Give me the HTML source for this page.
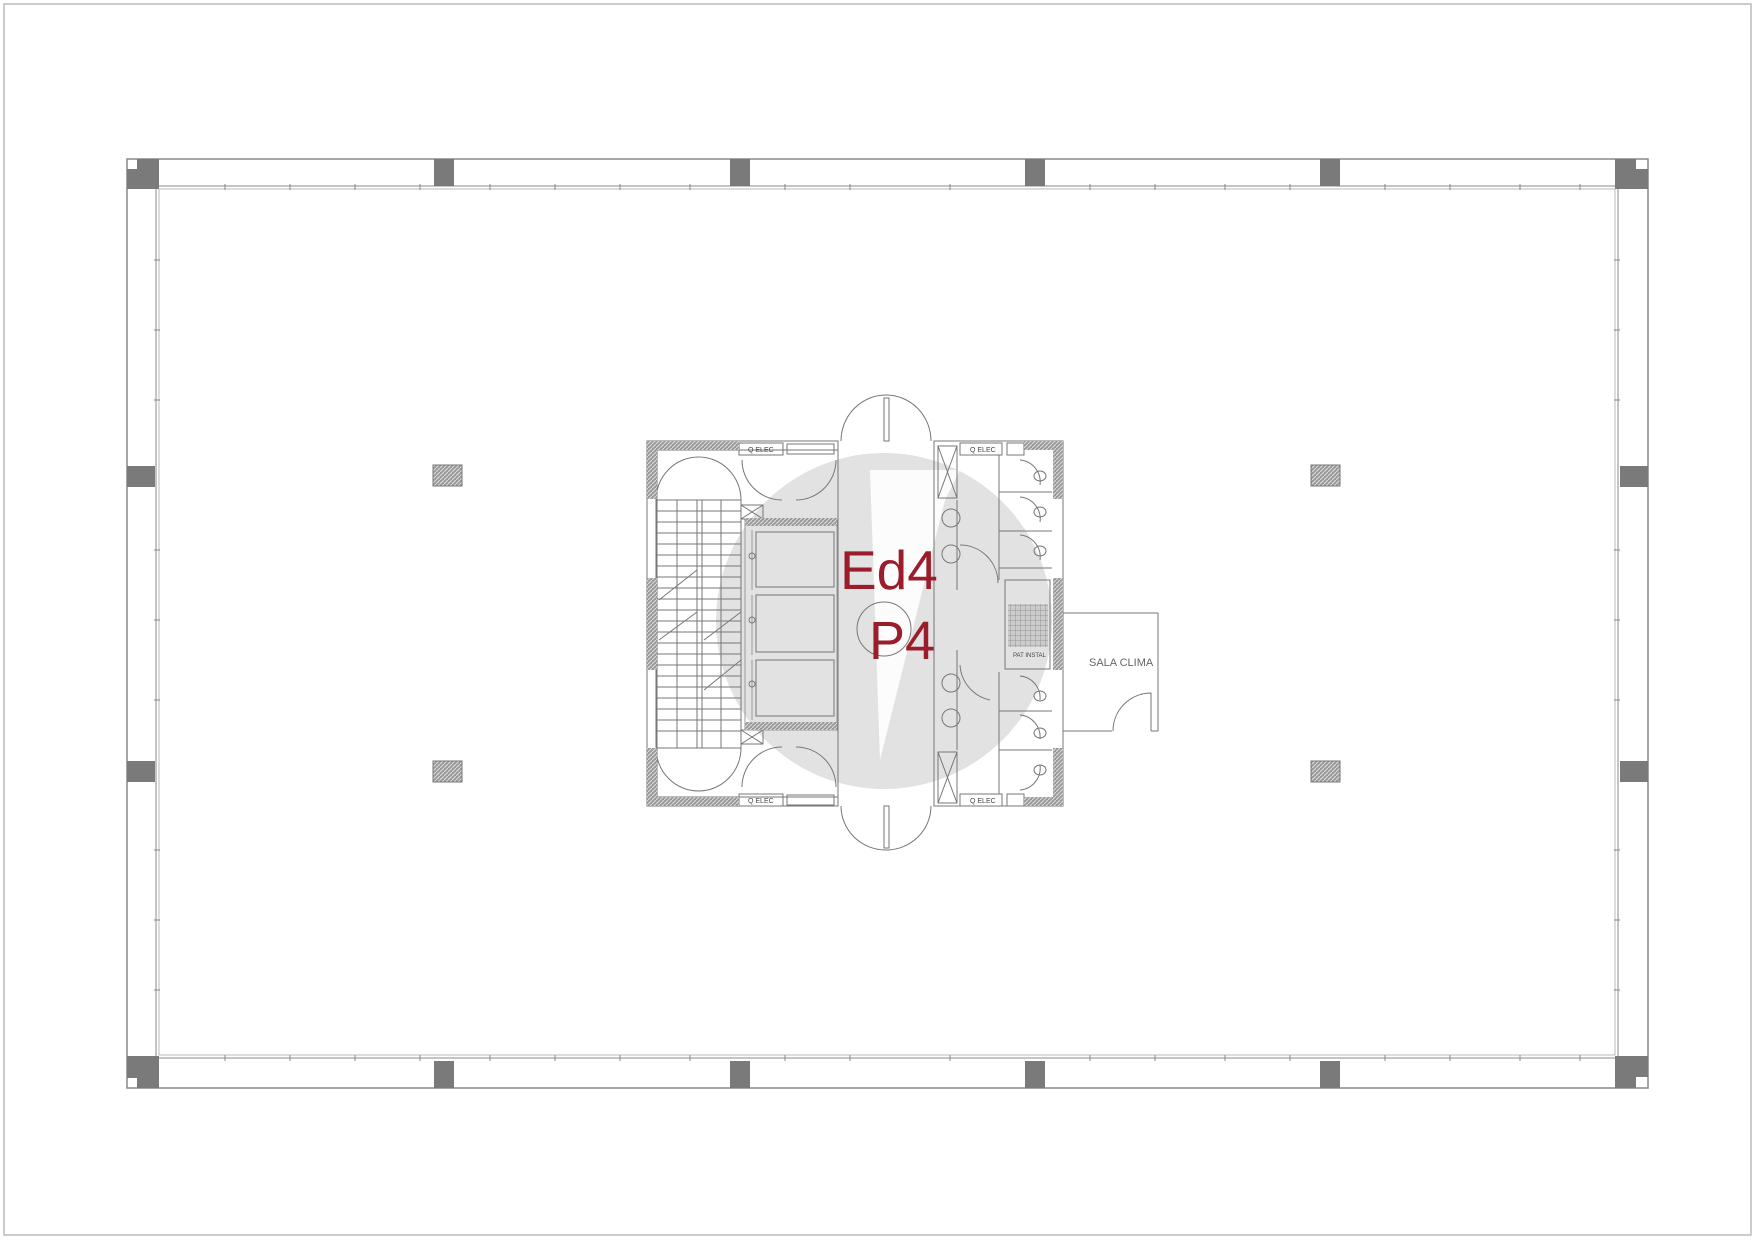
<!DOCTYPE html>
<html><head><meta charset="utf-8"><style>
html,body{margin:0;padding:0;background:#fff;}
svg{display:block;}
text{font-family:"Liberation Sans",sans-serif;}
</style></head><body>
<svg width="1755" height="1240" viewBox="0 0 1755 1240" xmlns="http://www.w3.org/2000/svg">
<defs>
<pattern id="hatch" width="4" height="4" patternUnits="userSpaceOnUse"><rect width="4" height="4" fill="#9a9a9a"/><path d="M0 4L4 0" stroke="#ddd" stroke-width="1"/></pattern>
<pattern id="grid" width="5" height="5" patternUnits="userSpaceOnUse"><rect width="5" height="5" fill="#ccc"/><path d="M0 0H5M0 0V5" stroke="#888" stroke-width="0.8"/></pattern>
</defs>
<rect x="4" y="4" width="1747" height="1231" fill="none" stroke="#bbb" stroke-width="1.5"/>

<g fill="none" stroke="#888" stroke-width="1.5">
<rect x="127" y="159" width="1521" height="929"/>
<rect x="156" y="186" width="1462" height="872" stroke-width="1"/>
<rect x="159" y="189" width="1456" height="866" stroke-width="0.8" stroke="#aaa"/>
</g>
<g stroke="#888" stroke-width="1">
<path d="M225 184v6M290 184v6M355 184v6M420 184v6M490 184v6M555 184v6M620 184v6M690 184v6M785 184v6M850 184v6M950 184v6M1090 184v6M1155 184v6M1225 184v6M1290 184v6M1385 184v6M1450 184v6M1520 184v6M1580 184v6"/>
<path d="M225 1055v6M290 1055v6M355 1055v6M420 1055v6M490 1055v6M555 1055v6M620 1055v6M690 1055v6M785 1055v6M850 1055v6M950 1055v6M1090 1055v6M1155 1055v6M1225 1055v6M1290 1055v6M1385 1055v6M1450 1055v6M1520 1055v6M1580 1055v6"/>
<path d="M154 260h6M154 330h6M154 400h6M154 550h6M154 620h6M154 700h6M154 850h6M154 920h6M154 990h6"/>
<path d="M1614 260h6M1614 330h6M1614 400h6M1614 550h6M1614 620h6M1614 700h6M1614 850h6M1614 920h6M1614 990h6"/>
</g>
<g fill="#7a7a7a">
<path d="M137 159h22v30h-32v-20h10z"/>
<path d="M1615 159h21v10h12v20h-33z"/>
<path d="M127 1056h32v32h-22v-10h-10z"/>
<path d="M1615 1056h33v21h-12v11h-21z"/>
<rect x="434" y="159" width="20" height="27"/>
<rect x="730" y="159" width="20" height="27"/>
<rect x="1025" y="159" width="20" height="27"/>
<rect x="1320" y="159" width="20" height="27"/>
<rect x="434" y="1061" width="20" height="27"/>
<rect x="730" y="1061" width="20" height="27"/>
<rect x="1025" y="1061" width="20" height="27"/>
<rect x="1320" y="1061" width="20" height="27"/>
<rect x="127" y="466" width="28" height="21"/>
<rect x="127" y="761" width="28" height="21"/>
<rect x="1620" y="466" width="28" height="21"/>
<rect x="1620" y="761" width="28" height="21"/>
</g>
<g stroke="#777" stroke-width="1">
<rect x="433" y="465" width="29" height="21" fill="url(#hatch)"/>
<rect x="1311" y="465" width="29" height="21" fill="url(#hatch)"/>
<rect x="433" y="761" width="29" height="21" fill="url(#hatch)"/>
<rect x="1311" y="761" width="29" height="21" fill="url(#hatch)"/>
</g>

<!-- watermark -->
<circle cx="884" cy="621" r="168" fill="#e2e2e2"/>
<path d="M870 470 L960 470 L945 500 L880 760 Z" fill="#fff" opacity="0.9"/>

<g fill="none" stroke="#777" stroke-width="1">
<!-- lobes -->
<path d="M841 441 A45 46 0 0 1 931 441"/>
<path d="M841 806 A45 44 0 0 0 931 806"/>
<line x1="838" y1="441" x2="838" y2="806"/><line x1="934" y1="441" x2="934" y2="806"/>
<rect x="884" y="398" width="5" height="43"/><rect x="884" y="806" width="5" height="42"/>
<!-- left block outline -->
<rect x="647" y="441" width="191" height="365"/>
<rect x="657" y="450" width="181" height="347"/>
<!-- stair -->
<path d="M656 500 A42.5 43 0 0 1 741 500"/>
<path d="M656 748 A42.5 43 0 0 0 741 748"/>
<rect x="656" y="500" width="85" height="248"/>
<line x1="697" y1="500" x2="697" y2="748"/><line x1="702" y1="500" x2="702" y2="748"/>
<line x1="677" y1="500" x2="677" y2="748"/><line x1="721" y1="500" x2="721" y2="748"/>
<path d="M656 511h85M656 522h85M656 533h85M656 544h85M656 555h85M656 566h85M656 577h85M656 588h85M656 599h85M656 610h85M656 621h85M656 632h85M656 643h85M656 654h85M656 665h85M656 676h85M656 687h85M656 698h85M656 709h85M656 720h85M656 731h85"/>
<path d="M659 600 L697 570 M659 640 L697 612 M704 640 L741 612 M704 690 L741 660"/>
<!-- elec boxes -->
<rect x="739" y="443" width="44" height="12"/><rect x="787" y="444" width="47" height="10"/>
<rect x="739" y="794" width="44" height="12"/><rect x="787" y="795" width="47" height="10"/>
<!-- door arcs -->
<path d="M742 460 A40 40 0 0 0 782 500 M836 460 A40 40 0 0 1 796 500"/>
<path d="M742 787 A40 40 0 0 1 782 747 M836 787 A40 40 0 0 0 796 747"/>
<rect x="741" y="505" width="22" height="14"/><path d="M741 505l22 14M763 505l-22 14"/>
<rect x="741" y="730" width="22" height="14"/><path d="M741 730l22 14M763 730l-22 14"/>
<!-- elevators -->
<rect x="745" y="520" width="92" height="210" stroke="#999"/>
<rect x="756" y="532" width="78" height="55"/><rect x="756" y="595" width="78" height="57"/><rect x="756" y="660" width="78" height="56"/>
<path d="M752 530v60M752 595v60M752 660v60" stroke="#999"/>
<circle cx="752" cy="556" r="3"/><circle cx="752" cy="620" r="3"/><circle cx="752" cy="684" r="3"/>
<!-- right wet area -->
<rect x="934" y="441" width="129" height="365"/>
<rect x="960" y="443" width="42" height="12"/><rect x="1007" y="443" width="17" height="12"/>
<rect x="960" y="794" width="42" height="12"/><rect x="1007" y="794" width="17" height="12"/>
<rect x="938" y="446" width="19" height="52"/><path d="M938 446L957 498M957 446L938 498"/>
<rect x="938" y="752" width="19" height="51"/><path d="M938 752L957 803M938 803L957 752"/>
<line x1="957" y1="500" x2="957" y2="590"/><line x1="957" y1="650" x2="957" y2="750"/>
<circle cx="951" cy="518" r="9"/><circle cx="951" cy="554" r="9"/>
<circle cx="951" cy="683" r="9"/><circle cx="951" cy="718" r="9"/>
<path d="M999 455V580M999 672V794"/>
<path d="M999 492h53M999 531h53M999 568h53M999 711h53M999 750h53"/>
<path d="M1020 460 A22 22 0 0 1 1040 485 M1020 497 A22 22 0 0 1 1040 522 M1020 535 A22 22 0 0 1 1040 560"/>
<path d="M1020 676 A22 22 0 0 1 1040 700 M1020 715 A22 22 0 0 1 1040 739 M1020 790 A22 22 0 0 0 1040 765"/>
<ellipse cx="1040" cy="476" rx="6" ry="5"/><ellipse cx="1040" cy="512" rx="6" ry="5"/><ellipse cx="1040" cy="551" rx="6" ry="5"/>
<ellipse cx="1040" cy="696" rx="6" ry="5"/><ellipse cx="1040" cy="733" rx="6" ry="5"/><ellipse cx="1040" cy="770" rx="6" ry="5"/>
<path d="M960 545 A38 38 0 0 1 998 583 M960 665 A38 38 0 0 0 990 700"/>
<rect x="1005" y="580" width="45" height="89"/>
<rect x="1008" y="604" width="40" height="43" fill="url(#grid)" stroke="none"/>
<!-- sala clima -->
<path d="M1063 613 H1158 V731 H1151 M1063 731 H1112"/>
<path d="M1151 731 V693 A38 38 0 0 0 1113 731"/>
</g>
<g fill="url(#hatch)">
<rect x="647" y="441" width="92" height="9"/><rect x="647" y="441" width="10" height="58"/>
<rect x="647" y="578" width="10" height="92"/>
<rect x="647" y="748" width="10" height="58"/><rect x="647" y="797" width="92" height="9"/>
<rect x="1024" y="441" width="39" height="9"/><rect x="1053" y="441" width="10" height="58"/>
<rect x="1053" y="578" width="10" height="92"/>
<rect x="1053" y="748" width="10" height="58"/><rect x="1024" y="797" width="39" height="9"/>
<rect x="745" y="518" width="92" height="8"/><rect x="745" y="722" width="92" height="8"/>
</g>
<g font-size="7" fill="#444">
<text x="748" y="452">Q ELEC</text><text x="970" y="452">Q ELEC</text>
<text x="748" y="803">Q ELEC</text><text x="970" y="803">Q ELEC</text>
<text x="1013" y="657" font-size="6">PAT INSTAL</text>
</g>
<text x="1089" y="666" font-size="11" fill="#666">SALA CLIMA</text>
<circle cx="884" cy="629" r="27" fill="none" stroke="#777" stroke-width="1"/>
<text x="840" y="589" font-size="55" fill="#9b1c2a">Ed4</text>
<text x="869" y="659" font-size="54" fill="#9b1c2a">P4</text>
</svg>
</body></html>
